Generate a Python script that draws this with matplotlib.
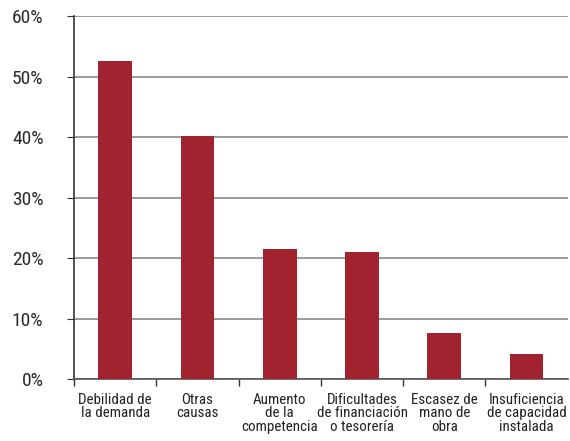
import matplotlib
matplotlib.use('Agg')
import matplotlib.pyplot as plt
from matplotlib import font_manager
from matplotlib.ticker import FixedLocator, PercentFormatter

categorias = ['Debilidad de\nla demanda', 'Otras\ncausas', 'Aumento\nde la\ncompetencia',
              'Dificultades\nde financiación\no tesorería', 'Escasez de\nmano de\nobra',
              'Insuficiencia\nde capacidad\ninstalada']
valores = [52.6, 40.2, 21.5, 21.0, 7.6, 4.1]
yticks = [0, 10, 20, 30, 40, 50, 60]

nombres = {f.name for f in font_manager.fontManager.ttflist}
familia = [n for n in ['Liberation Sans Narrow', 'Roboto Condensed', 'DejaVu Sans Condensed']
           if n in nombres] + ['DejaVu Sans']
plt.rcParams['font.family'] = familia
plt.rcParams['font.stretch'] = 'condensed'

fig = plt.figure(figsize=(5.7, 4.41), dpi=100)
ax = fig.add_axes([0.13, 0.1406, 0.866, 0.823])

x = range(len(categorias))
ax.bar(x, valores, width=0.41, color='#a0232f', zorder=3)

ax.set_xlim(-0.5, len(categorias) - 0.5)
ax.set_ylim(0, 60)
ax.set_yticks(yticks)
ax.yaxis.set_major_formatter(PercentFormatter(decimals=0))
ax.grid(axis='y', color='#8a8a8a', linewidth=1.2, zorder=0)

ax.set_xticks(list(x))
ax.set_xticklabels(categorias, fontsize=10.8, color='#222222', linespacing=0.95)
ax.tick_params(axis='x', which='major', length=0, pad=10)
ax.xaxis.set_minor_locator(FixedLocator([i + 0.5 for i in range(len(categorias) - 1)] + [-0.5]))
ax.tick_params(axis='x', which='minor', length=5, color='#333333', width=1)
ax.tick_params(axis='y', labelsize=14, labelcolor='#2a2a2a', color='#333333', length=5, pad=17)

for s in ['top', 'right']:
    ax.spines[s].set_visible(False)
ax.spines['left'].set_color('#333333')
ax.spines['bottom'].set_color('#555555')
ax.spines['left'].set_linewidth(1.2)
ax.spines['bottom'].set_linewidth(1.2)

fig.savefig('out.png', dpi=100)
